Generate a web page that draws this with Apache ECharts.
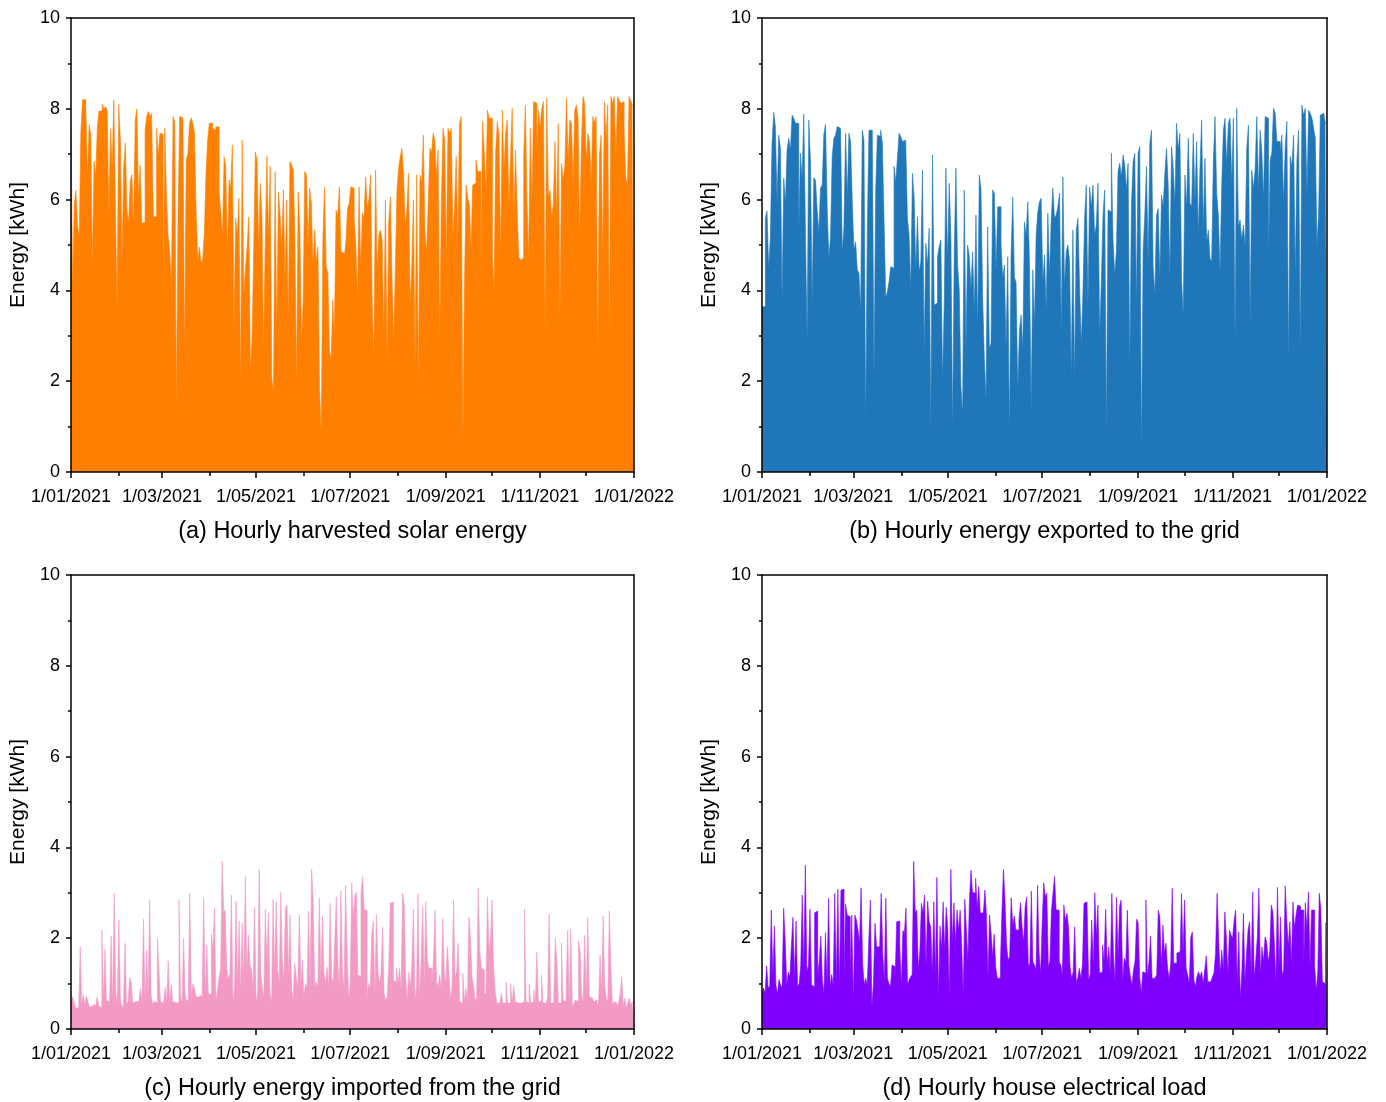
<!DOCTYPE html>
<html>
<head>
<meta charset="utf-8">
<script src="https://cdn.jsdelivr.net/npm/echarts@6/dist/echarts.min.js"></script>
<style>
  html, body { margin: 0; padding: 0; background: #ffffff; }
  #chart { width: 1386px; height: 1102px; }
</style>
</head>
<body>
<div id="chart"></div>
<script>
// Axis tick labels (first day of every second month)
const tickLabels = ['1/01/2021', '1/03/2021', '1/05/2021', '1/07/2021', '1/09/2021', '1/11/2021', '1/01/2022'];
const yTicks = [0, 2, 4, 6, 8, 10];

// Panel titles
const panelTitles = [
  '(a) Hourly harvested solar energy',
  '(b) Hourly energy exported to the grid',
  '(c) Hourly energy imported from the grid',
  '(d) Hourly house electrical load'
];

// (a) daily peak of harvested solar energy [kWh], evenly spread over the year
const solarPeak = [
  7.6,4.15,5.9,6.2,5.4,5.2,7.5,8.2,8.2,8.05, 6.5,7.65,7.45,4.5,6.85,6.5,7.6,7.95,7.95,8.1,
  8.0,8.05,7.95,5.65,7.55,6.7,8.2,5.8,3.57,8.1, 7.3,4.67,6.7,7.25,5.77,5.5,6.4,6.55,5.4,7.75,
  8.0,6.06,6.76,5.48,5.5,7.53,7.83,7.94,7.83,7.9, 5.62,5.62,7.57,6.98,7.46,7.44,3.7,7.58,6.07,5.2,
  4.85,4.08,7.83,7.72,1.37,5.59,7.83,7.8,7.68,2.54, 6.87,7.02,7.68,7.8,7.68,7.46,5.73,4.63,4.96,4.6,
  4.7,5.26,6.58,7.31,7.68,7.68,7.57,7.53,7.6,7.6, 6.14,5.73,5.18,6.94,6.73,4.82,6.43,6.25,7.2,3.13,
  5.59,5.22,6.03,1.92,7.31,3.9,4.49,4.96,5.62,2.2, 2.98,4.93,7.05,6.87,4.93,6.36,
  5.59,2.76,5.04,6.95,5.15,6.73,2.06,1.73,6.62,3.05, 6.17,5.66,4.96,6.21,4.23,5.99,3.31,6.84,6.76,6.65,
  5.22,1.88,6.17,5.4,2.9,3.75,6.62,6.54,4.96,6.25, 5.92,4.56,5.33,4.63,4.96,1.84,0.81,5.11,6.28,4.52,
  4.38,2.65,2.5,3.79,3.05,5.77,5.62,6.28,4.85,4.82, 4.74,5.07,5.81,5.92,6.28,6.25,5.59,5.0,3.83,6.28,
  4.52,5.7,5.62,6.5,5.81,6.03,6.54,3.64,2.54,6.65, 4.45,5.22,5.33,5.11,3.02,5.99,2.36,5.51,6.06,4.3,
  2.9,4.45,6.21,6.69,6.95,7.13,6.54,5.44,5.77,6.58, 3.71,4.52,5.99,2.36,6.54,1.81,6.54,6.36,7.42,5.29,
  4.82,5.92,7.13,7.02,7.46,7.31,6.5,7.09,2.9,5.99, 7.57,7.31,4.74,7.57,7.46,7.57,
  5.18,5.88,6.95,5.07,7.68,7.83,0.63,4.08,6.32,6.03, 5.88,4.93,6.32,6.36,6.87,6.62,6.62,4.56,7.72,7.09,
  6.14,7.97,7.79,7.79,4.74,4.01,7.09,7.72,7.42,4.74, 7.97,6.65,7.46,7.75,5.88,6.91,8.01,5.55,7.09,5.77,
  4.74,4.67,4.71,6.95,8.08,5.99,4.71,7.57,5.84,8.16, 8.12,7.09,7.97,7.57,8.01,8.16,3.09,8.23,6.06,6.21,
  5.55,5.92,7.28,5.66,7.68,3.38,6.8,6.43,6.76,8.23, 6.84,7.75,7.68,6.36,7.97,8.08,7.79,5.15,7.13,8.27,
  8.12,6.84,7.46,7.24,6.39,7.83,7.68,7.83,2.58,6.98, 7.42,4.74,8.16,7.35,8.08,3.02,8.27,8.12,8.27,6.98,
  8.27,8.19,8.12,8.16,7.53,6.47,6.32,8.27,8.19,8.08
];

// (b) daily peak of energy exported to the grid [kWh], evenly spread over the year
const exportPeak = [
  3.64,3.64,5.59,5.75,4.49,5.16,7.24,7.92,7.61,5.95, 7.42,7.13,3.79,6.47,5.92,7.09,7.35,7.09,7.86,7.79,
  7.68,7.68,5.29,7.02,6.47,7.88,5.26,2.94,7.75,6.84, 3.72,6.48,6.43,5.77,5.29,6.25,6.32,7.44,7.66,5.81,
  4.71,5.18,6.95,7.35,7.42,7.61,7.57,7.57,4.85,5.37, 7.46,6.06,7.46,7.28,5.95,4.89,5.07,4.45,4.38,3.53,
  7.53,7.31,1.07,5.4,7.53,7.53,7.31,2.14,6.17,7.42, 7.39,7.53,7.24,5.55,3.83,3.97,4.19,4.52,4.49,6.73,
  6.39,6.91,7.46,7.39,7.28,7.31,7.24,5.59,5.22,4.01, 6.58,6.06,4.45,5.62,4.41,4.63,6.65,2.65,5.04,4.56,
  5.37,0.93,6.98,3.68,3.72,4.74,4.96,5.11,1.99,3.68, 6.69,4.67,6.36,
  5.18,0.93,4.82,6.69,4.56,4.01,1.88,1.29,6.21,2.72, 5.0,4.74,4.05,4.85,3.53,5.66,3.13,6.54,6.25,3.86,
  2.5,1.59,5.4,2.72,2.83,6.21,6.14,4.45,5.84,5.84, 5.0,4.27,4.56,2.72,4.74,0.81,4.74,6.06,4.3,4.16,
  1.81,3.13,3.46,2.69,5.51,5.22,5.95,4.63,1.4,4.45, 3.24,5.22,5.73,5.95,6.03,4.19,4.78,3.57,5.7,4.34,
  5.55,6.25,5.59,5.66,5.84,6.14,3.09,6.5,4.08,4.85, 5.0,4.63,2.14,5.33,2.03,5.33,5.59,4.08,2.8,3.97,
  5.59,6.32,3.68,6.28,5.84,6.32,5.22,5.44,6.36,3.02, 4.19,5.66,6.21,0.85,5.77,5.73,7.02,5.11,4.34,4.85,
  6.62,6.8,6.5,6.98,6.76,6.21,6.8,2.32,5.88,6.84, 7.02,3.68,7.02,7.17,
  0.41,4.89,5.66,6.73,4.63,7.24,7.53,4.52,3.9,5.66, 5.8,4.27,6.1,5.84,6.58,7.13,6.32,4.27,7.17,6.69,
  5.92,7.68,7.09,7.46,4.23,3.46,6.54,5.84,7.35,5.92, 5.84,7.46,5.99,7.28,5.22,6.69,7.75,5.37,6.91,5.07,
  5.33,4.71,4.63,6.84,7.83,6.14,5.66,4.38,6.28,7.53, 7.79,6.76,7.68,7.79,6.36,7.79,2.91,8.01,5.4,5.55,
  5.11,5.44,4.96,7.13,7.64,3.27,6.65,6.25,6.65,7.83, 6.21,7.53,7.06,6.03,7.83,7.79,4.71,6.87,7.02,8.01,
  7.9,7.28,7.28,7.02,7.42,5.95,7.17,7.72,2.43,6.95, 6.73,7.42,4.34,6.87,7.53,2.61,8.08,7.86,8.01,6.14,
  7.97,7.9,7.79,7.57,7.35,5.0,5.73,7.86,7.9,7.94, 7.68
];

// (c) daily peak of energy imported from the grid [kWh], one value per day
const importPeak = [
  0.6,0.71,0.58,0.46,0.46,0.5,1.81,0.55,0.76,0.53, 0.73,0.6,0.49,0.5,0.49,0.55,0.5,0.71,0.5,0.48,
  2.18,0.6,1.75,0.64,0.6,0.62,2.05,0.55,3.0,0.79, 0.55,2.4,0.7,0.46,0.55,1.89,0.55,0.6,1.13,1.03,
  0.58,0.6,0.58,0.6,0.58,0.9,0.6,2.42,0.6,1.74, 0.65,2.84,0.71,0.55,0.6,0.58,2.0,1.31,0.6,0.58,
  0.6,0.92,0.6,1.5,0.6,0.97,0.6,0.58,0.6,0.58, 2.84,0.68,0.6,2.0,0.77,0.6,0.65,2.99,0.7,0.99,
  0.9,0.72,0.7,0.7,0.75,0.7,2.88,0.8,1.85,0.79, 0.75,2.09,1.74,2.66,0.6,0.85,1.15,1.3,3.7,2.55,
  2.62,1.34,1.1,1.21,2.95,0.6,0.9,2.82,1.0,2.38, 0.82,2.34,0.9,3.36,1.2,2.07,1.41,1.31,0.9,2.68,
  0.6,0.8,3.52,1.26,0.9,0.68,2.64,1.45,2.56,0.8, 0.55,2.86,1.26,2.8,1.3,1.0,3.01,1.52,1.1,2.66,
  2.73,1.15,2.51,0.9,0.64,1.45,1.15,0.9,2.51,1.0, 1.52,0.71,1.0,0.9,2.6,0.9,3.52,2.83,0.93,1.04,
  0.91,2.89,1.1,2.49,1.23,1.0,1.37,0.9,2.77,1.14, 1.0,1.97,2.91,1.48,0.9,3.04,1.23,0.9,3.17,1.67,
  0.68,0.97,3.22,2.44,2.93,3.02,1.19,1.15,2.99,3.36, 2.64,2.6,0.68,1.0,0.9,2.07,2.38,0.73,2.53,1.26,
  1.0,1.23,2.24,0.77,0.64,0.7,1.41,2.77,2.8,1.06, 1.05,1.34,1.0,1.34,0.9,3.0,2.73,1.12,0.64,1.25,
  0.9,1.45,2.64,0.68,0.9,2.99,0.68,1.56,2.7,1.0, 2.8,1.52,1.34,1.34,1.0,1.56,2.62,1.04,0.93,1.19,
  0.9,2.44,1.26,1.0,1.81,1.26,0.68,0.9,2.84,1.12, 1.26,1.89,0.6,0.57,1.23,0.6,0.9,0.6,2.47,2.03,
  1.12,0.97,0.6,0.7,3.1,1.74,1.34,1.3,0.75,0.8, 2.91,1.7,2.0,2.84,1.34,0.82,0.57,0.57,0.57,0.78,
  0.57,0.57,1.04,0.57,0.57,1.0,0.57,0.95,0.6,0.57, 0.6,0.57,0.58,0.6,2.64,0.6,0.57,0.99,0.57,0.6,
  0.86,0.57,1.7,0.6,0.6,1.19,0.57,0.57,0.57,0.7, 2.53,0.57,0.57,0.7,2.0,1.48,0.57,0.57,1.89,0.64,
  0.6,0.9,2.18,0.57,2.2,0.5,0.55,0.64,0.6,1.94, 1.75,0.78,0.6,2.07,0.71,2.45,0.71,0.68,0.64,0.6,
  0.64,0.53,0.6,1.63,0.75,2.49,0.97,0.68,0.6,2.6, 1.41,0.53,0.6,0.57,0.5,0.57,0.77,1.15,0.5,0.68,
  0.46,0.57,0.68,0.53,0.6
];

// (d) daily peak of the house electrical load [kWh], one value per day
const loadPeak = [
  0.82,0.9,0.8,1.39,0.9,0.95,2.62,1.15,2.27,0.97, 0.77,1.09,0.97,0.9,2.66,1.92,0.97,1.25,1.15,1.85,
  2.46,1.15,2.38,0.93,1.0,1.39,2.95,1.34,3.61,1.26, 1.41,2.64,0.97,0.93,2.56,2.6,1.19,1.5,2.05,1.08,
  0.78,2.12,1.02,2.88,0.93,1.2,0.97,2.99,1.05,3.08, 0.93,3.06,3.08,1.12,2.75,2.51,2.47,1.2,2.51,0.6,
  2.51,2.4,2.18,1.89,3.11,1.46,0.97,1.12,0.97,1.95, 2.84,0.49,1.0,2.33,1.81,1.81,1.81,2.99,1.67,1.04,
  2.88,1.12,1.0,0.93,1.41,1.37,1.1,2.36,2.38,1.85, 0.93,2.17,2.11,2.66,0.97,1.08,1.15,1.2,3.69,2.56,
  2.62,1.3,1.74,2.77,2.56,2.95,1.37,2.82,2.36,2.25, 1.2,2.8,1.19,3.34,0.71,2.27,1.74,2.8,1.74,2.68,
  2.23,0.71,3.52,1.92,2.78,1.89,2.62,2.18,2.62,1.85, 0.74,2.86,2.22,1.5,2.84,3.5,3.01,2.99,3.32,2.66,
  3.14,2.55,2.56,2.58,3.06,2.51,1.15,2.51,2.11,1.6, 2.09,1.36,1.12,1.12,1.41,2.58,3.52,2.83,1.85,1.52,
  1.6,2.89,2.29,2.49,2.18,2.18,2.4,2.78,2.27,1.9, 2.7,2.91,1.46,1.37,3.04,1.48,1.41,1.3,3.17,1.68,
  1.22,2.34,3.22,2.91,2.99,1.37,1.5,2.62,2.99,3.36, 2.62,2.62,1.48,1.41,1.2,2.73,2.38,2.55,2.25,1.37,
  1.12,1.26,2.25,1.04,1.12,1.34,1.12,1.41,2.77,2.8, 2.7,1.08,1.2,2.4,1.41,3.0,2.03,2.73,1.23,1.26,
  1.85,1.5,2.64,1.41,1.81,1.2,2.99,1.7,1.04,2.9, 1.56,2.7,2.84,1.04,1.56,1.45,2.62,1.41,1.15,0.97,
  1.3,1.5,2.42,2.34,1.15,0.79,1.26,1.23,2.84,1.15, 1.48,2.05,1.12,1.12,1.14,1.2,2.62,2.47,1.37,2.29,
  1.67,1.89,1.34,1.12,1.41,3.1,1.45,1.45,1.67,1.7, 1.4,2.99,1.67,2.84,1.34,1.19,1.0,2.02,2.14,1.08,
  0.93,1.15,1.26,1.15,1.26,1.0,1.3,1.61,1.04,1.04, 1.08,1.15,1.24,1.67,2.99,1.96,1.23,1.74,1.3,2.58,
  2.0,1.23,2.18,2.07,2.0,2.4,2.62,1.0,2.14,0.68, 1.3,2.55,1.04,1.67,2.18,2.36,1.23,3.02,1.12,1.52,
  2.03,3.1,1.23,1.81,1.48,2.03,1.92,1.48,1.7,2.73, 2.58,1.89,1.04,3.12,1.41,2.47,1.19,1.3,3.15,2.4,
  1.81,2.36,1.45,2.8,2.22,2.51,2.73,2.7,2.62,2.62, 1.45,2.78,2.22,3.02,1.41,2.62,2.62,1.41,0.86,1.2,
  2.99,2.66,1.04,1.0,2.33
];

const FONT = '"Liberation Sans", Arial, Helvetica, sans-serif';
const DAY_MS = 86400000;
const yearStart = Date.UTC(2021, 0, 1);
const YEAR_DAYS = (Date.UTC(2022, 0, 1) - yearStart) / DAY_MS;

// day-of-year of the first of each month (0 .. 12)
const monthStartDays = [];
for (let m = 0; m <= 12; m++) monthStartDays.push((Date.UTC(2021, m, 1) - yearStart) / DAY_MS);
const majorDays = monthStartDays.filter((d, m) => m % 2 === 0);
const minorDays = monthStartDays.filter((d, m) => m % 2 === 1);

const panels = [
  { data: solarPeak,  color: '#ff8000', left: 71,  top: 18,  width: 563 },
  { data: exportPeak, color: '#1f77b9', left: 762, top: 18,  width: 565 },
  { data: importPeak, color: '#f39ac4', left: 71,  top: 575, width: 563 },
  { data: loadPeak,   color: '#8000ff', left: 762, top: 575, width: 565 }
];
const PLOT_H = 454;

// each array covers the whole year in equal steps; the last value is held to year end
function stepPoints(values) {
  const step = YEAR_DAYS / values.length;
  const pts = values.map((v, i) => [i * step, v]);
  pts.push([YEAR_DAYS, values[values.length - 1]]);
  return pts;
}

const grids = [], xAxes = [], yAxes = [], series = [], graphics = [];
const black = '#000000';

panels.forEach((p, g) => {
  grids.push({ left: p.left, top: p.top, width: p.width, height: PLOT_H, containLabel: false });

  // bottom axis: long ticks + labels every second month
  xAxes.push({
    type: 'value', gridIndex: g, min: 0, max: YEAR_DAYS, position: 'bottom', z: 10,
    axisLine: { show: true, onZero: false, lineStyle: { color: black, width: 1.5 } },
    axisTick: { show: true, customValues: majorDays, length: 6, lineStyle: { color: black, width: 1.5 } },
    axisLabel: {
      show: true, customValues: majorDays, margin: 16, color: black, fontSize: 18, fontFamily: FONT,
      formatter: (v) => tickLabels[majorDays.indexOf(v)] || ''
    },
    splitLine: { show: false }
  });
  // bottom axis: short ticks on the months in between
  xAxes.push({
    type: 'value', gridIndex: g, min: 0, max: YEAR_DAYS, position: 'bottom', z: 10,
    axisLine: { show: false, onZero: false },
    axisTick: { show: true, customValues: minorDays, length: 4, lineStyle: { color: black, width: 1.5 } },
    axisLabel: { show: false },
    splitLine: { show: false }
  });
  // frame line on top
  xAxes.push({
    type: 'value', gridIndex: g, min: 0, max: YEAR_DAYS, position: 'top', z: 10,
    axisLine: { show: true, onZero: false, lineStyle: { color: black, width: 1.5 } },
    axisTick: { show: false }, axisLabel: { show: false }, splitLine: { show: false }
  });

  yAxes.push({
    type: 'value', gridIndex: g, min: yTicks[0], max: yTicks[yTicks.length - 1], interval: 2, position: 'left', z: 10,
    name: 'Energy [kWh]', nameLocation: 'middle', nameGap: 42,
    nameTextStyle: { color: black, fontSize: 21, fontFamily: FONT },
    axisLine: { show: true, onZero: false, lineStyle: { color: black, width: 1.5 } },
    axisTick: { show: true, length: 5, lineStyle: { color: black, width: 1.5 } },
    minorTick: { show: true, splitNumber: 2, length: 3, lineStyle: { color: black, width: 1.5 } },
    axisLabel: { margin: 11, color: black, fontSize: 18, fontFamily: FONT },
    splitLine: { show: false }
  });
  yAxes.push({
    type: 'value', gridIndex: g, min: 0, max: 10, position: 'right', z: 10,
    axisLine: { show: true, onZero: false, lineStyle: { color: black, width: 1.5 } },
    axisTick: { show: false }, axisLabel: { show: false }, splitLine: { show: false }
  });

  series.push({
    type: 'line', xAxisIndex: 3 * g, yAxisIndex: 2 * g,
    data: stepPoints(p.data), step: 'end', symbol: 'none', silent: true, animation: false,
    lineStyle: { color: p.color, width: 0.6 },
    areaStyle: { color: p.color, opacity: 1 }
  });

  graphics.push({
    type: 'text', x: p.left + p.width / 2, y: p.top + PLOT_H + 60,
    style: { text: panelTitles[g], fill: black, font: '23.5px ' + FONT, textAlign: 'center', textVerticalAlign: 'middle' }
  });
});

const chart = echarts.init(document.getElementById('chart'), null, { renderer: 'canvas' });
chart.setOption({
  backgroundColor: '#ffffff',
  animation: false,
  grid: grids,
  xAxis: xAxes,
  yAxis: yAxes,
  series: series,
  graphic: graphics
});
</script>
</body>
</html>
